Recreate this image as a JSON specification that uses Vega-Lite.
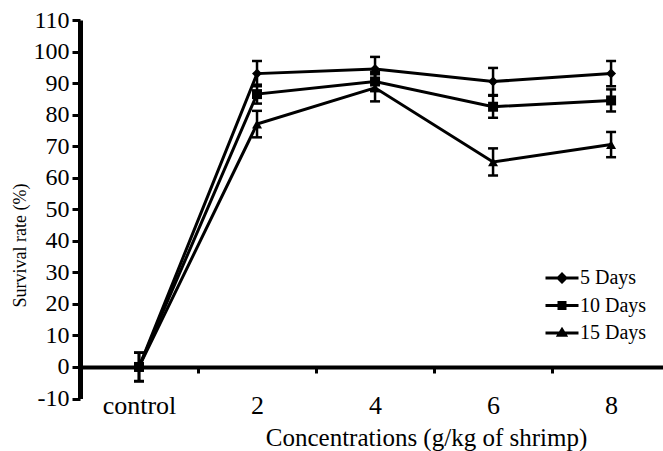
{
  "$schema": "https://vega.github.io/schema/vega-lite/v6.json",
  "width": 583,
  "height": 378.5,
  "autosize": {"type": "none"},
  "padding": {"left": 80, "top": 20, "right": 0, "bottom": 52.5},
  "background": "white",
  "config": {
    "view": {"stroke": null},
    "font": "Liberation Serif, serif",
    "axis": {"grid": false, "labelColor": "black", "titleColor": "black", "domainColor": "black", "tickColor": "black", "titleFontWeight": "normal", "labelFont": "Liberation Serif, serif", "titleFont": "Liberation Serif, serif", "labelOverlap": false},
    "legend": {"labelFont": "Liberation Serif, serif"}
  },
  "data": {
    "values": [
      {"xi": 0, "conc": "control", "series": "5 Days", "v": 0, "err": 4.5},
      {"xi": 1, "conc": "2", "series": "5 Days", "v": 93, "err": 4},
      {"xi": 2, "conc": "4", "series": "5 Days", "v": 94.5, "err": 3.8},
      {"xi": 3, "conc": "6", "series": "5 Days", "v": 90.5, "err": 4.3},
      {"xi": 4, "conc": "8", "series": "5 Days", "v": 93, "err": 4},
      {"xi": 0, "conc": "control", "series": "10 Days", "v": 0, "err": 4.5},
      {"xi": 1, "conc": "2", "series": "10 Days", "v": 86.5, "err": 3},
      {"xi": 2, "conc": "4", "series": "10 Days", "v": 90.5, "err": 3},
      {"xi": 3, "conc": "6", "series": "10 Days", "v": 82.5, "err": 3.5},
      {"xi": 4, "conc": "8", "series": "10 Days", "v": 84.5, "err": 3.5},
      {"xi": 0, "conc": "control", "series": "15 Days", "v": 0, "err": 4.5},
      {"xi": 1, "conc": "2", "series": "15 Days", "v": 77, "err": 4.2},
      {"xi": 2, "conc": "4", "series": "15 Days", "v": 88.5, "err": 4.3},
      {"xi": 3, "conc": "6", "series": "15 Days", "v": 65, "err": 4.3},
      {"xi": 4, "conc": "8", "series": "15 Days", "v": 70.5, "err": 4}
    ]
  },
  "encoding": {
    "y": {"field": "v", "type": "quantitative", "scale": {"domain": [-10, 110], "nice": false, "zero": false},
      "axis": {"values": [-10, 0, 10, 20, 30, 40, 50, 60, 70, 80, 90, 100, 110], "tickCount": 13, "labelExpr": "'' + datum.value", "labelOverlap": false, "labelSeparation": 0, "domainWidth": 5, "tickSize": 8, "tickWidth": 3, "labelFontSize": 24, "labelPadding": 3, "title": "Survival rate (%)", "titleFontSize": 18, "titleX": -60, "titleY": 225, "titleBaseline": "middle", "titleAlign": "center"}}
  },
  "resolve": {"scale": {"shape": "independent"}, "axis": {"x": "independent"}},
  "layer": [
    {
      "mark": {"type": "errorbar", "color": "black", "opacity": 1, "ticks": {"size": 10, "thickness": 2.5, "color": "black", "opacity": 1}, "rule": {"strokeWidth": 2.5, "color": "black", "opacity": 1}},
      "encoding": {
        "x": {"field": "xi", "type": "quantitative", "scale": {"domain": [-0.5, 4.44], "nice": false, "zero": false},
          "axis": {"orient": "bottom", "values": [0, 1, 2, 3, 4], "labelExpr": "['control','2','4','6','8'][datum.value]", "domain": false, "ticks": false, "labelFontSize": 26, "labelBaseline": "alphabetic", "labelPadding": 14.5, "title": "Concentrations (g/kg of shrimp)", "titleFontSize": 25, "titleX": 346, "titleY": 46.5, "titleBaseline": "alphabetic", "titleAlign": "center"}},
        "yError": {"field": "err"},
        "detail": {"field": "series"}
      }
    },
    {
      "mark": {"type": "line", "color": "black", "strokeWidth": 3},
      "encoding": {
        "x": {"field": "xi", "type": "quantitative", "scale": {"domain": [-0.5, 4.44], "nice": false, "zero": false},
          "axis": {"orient": "bottom", "values": [0.5, 1.5, 2.5, 3.5], "labels": false, "title": null, "offset": -31.5, "domainWidth": 4, "tickSize": 6, "tickWidth": 3}},
        "detail": {"field": "series"}
      }
    },
    {
      "mark": {"type": "point", "filled": true, "color": "black", "opacity": 1, "size": 100},
      "encoding": {
        "x": {"field": "xi", "type": "quantitative", "axis": null},
        "shape": {"field": "series", "type": "nominal", "scale": {"domain": ["5 Days", "10 Days", "15 Days"], "range": ["diamond", "square", "triangle-up"]}, "legend": null}
      }
    },
    {
      "transform": [{"filter": "datum.v > 1000"}],
      "mark": {"type": "point", "filled": true, "color": "black"},
      "encoding": {
        "x": {"field": "xi", "type": "quantitative", "axis": null},
        "shape": {"field": "series", "type": "nominal",
          "scale": {"domain": ["5 Days", "10 Days", "15 Days"], "range": [
            "M-1.65,-0.15H1.65V0.15H-1.65Z M0,-0.6L0.6,0L0,0.6L-0.6,0Z",
            "M-1.65,-0.15H1.65V0.15H-1.65Z M-0.45,-0.45H0.45V0.45H-0.45Z",
            "M-1.65,-0.15H1.65V0.15H-1.65Z M0,-0.62L0.62,0.38H-0.62Z"
          ]},
          "legend": {"orient": "none", "legendX": 472, "legendY": 248, "title": null, "padding": 0, "symbolSize": 400, "symbolFillColor": "black", "symbolStrokeColor": "black", "symbolStrokeWidth": 0, "symbolOpacity": 1, "labelFontSize": 20, "labelColor": "black", "labelOffset": 8, "rowPadding": 7.5}}
      }
    }
  ]
}
